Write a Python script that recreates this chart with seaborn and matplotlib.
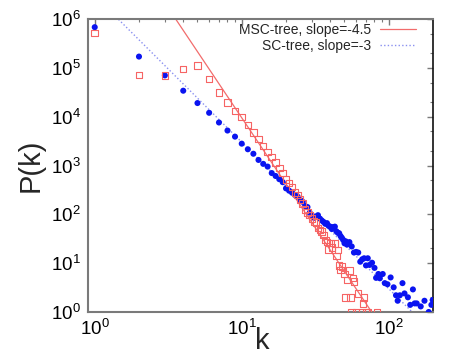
import matplotlib
matplotlib.use("Agg")
import matplotlib.pyplot as plt
import numpy as np
import pandas as pd
import seaborn as sns
from matplotlib.ticker import FixedLocator, NullFormatter

# ---- data ----
sc_k = [1, 2, 3, 4, 5, 6, 7, 8, 9, 10, 11, 12, 13, 14, 15, 16, 17, 18, 19, 20,
        21, 22, 23, 24, 25, 26, 27, 28, 29, 30, 31, 32, 33, 34, 35, 36, 37, 38, 39, 40,
        41, 42, 43, 44, 45, 46, 47, 48, 49, 50, 51, 52, 54, 56, 58, 60, 62, 64, 66, 68,
        70, 72, 74, 77, 80, 82, 85, 87, 91, 94, 98, 103, 108, 112, 115, 119, 124, 128,
        135, 140, 146, 150, 155, 165, 175, 187, 195, 199]
sc_p = [6.8e5, 1.7e5, 7.0e4, 3.4e4, 1.9e4, 1.2e4, 7.6e3, 5.2e3, 3.9e3, 2.8e3,
        2.15e3, 1.74e3, 1.3e3, 1.08e3, 950, 700, 610, 525, 455, 340,
        305, 277, 250, 230, 198, 180, 148, 141, 108, 96,
        85, 90, 96, 82, 75, 70, 64, 66, 58, 56,
        50, 55, 56, 45, 42, 41, 36, 33, 30, 25.5,
        28, 24, 27, 22, 16.5, 17, 16.5, 10.7, 12, 12.6,
        9, 12.6, 9.2, 10.2, 8, 5, 6, 4.9, 6, 3.9,
        3.7, 5.1, 3.2, 2.2, 1.7, 2.2, 3.9, 2.4,
        2, 1.4, 2.9, 1.5, 1.5, 1.3, 1.7, 1.0, 1.4, 1.76]

msc_k = [1, 2, 3, 4, 5, 6, 7, 8, 9, 10, 11, 12, 13, 14, 15, 16, 17, 18, 19, 20,
         21, 22, 23, 24, 25, 26, 27, 28, 29, 30, 31, 32, 33, 34, 35, 36, 37, 38, 39, 40,
         41, 43, 44, 45, 46, 47, 48, 50, 51, 52, 54, 55, 57, 58, 56, 60, 62, 66, 67, 68,
         70, 72, 83]
msc_p = [5.2e5, 7.2e4, 6.9e4, 9.4e4, 1.12e5, 5.9e4, 3.1e4, 1.95e4, 1.3e4, 9.8e3,
         6.8e3, 4.7e3, 3.5e3, 2.5e3, 1.9e3, 1.5e3, 1.15e3, 880, 700, 520,
         440, 360, 280, 250, 200, 168, 125, 110, 97, 83,
         72, 68, 52, 48, 44, 38, 30, 27, 19, 26,
         21, 25, 14, 18.6, 9, 7.2, 8.5, 6, 2, 4.5,
         7, 2, 5, 4.2, 1, 1, 2.4, 1, 1.5, 2,
         1, 1, 1]

# power-law guide lines: P = C * k^slope
msc_slope, msc_c = -4.5, 3.0e8
sc_slope, sc_c = -3.0, 3.0e6
line_k = [0.9, 200]

labels = ["MSC-tree, slope=-4.5", "SC-tree, slope=-3"]
x_ticks = [1, 10, 100]
x_ticklabels = ["$10^{0}$", "$10^{1}$", "$10^{2}$"]
y_ticks = [1, 10, 100, 1e3, 1e4, 1e5, 1e6]
y_ticklabels = ["$10^{0}$", "$10^{1}$", "$10^{2}$", "$10^{3}$",
                "$10^{4}$", "$10^{5}$", "$10^{6}$"]

# ---- styling ----
sns.set_style("white")
plt.rcParams["font.family"] = ["Liberation Sans", "DejaVu Sans"]
plt.rcParams["mathtext.fontset"] = "custom"
plt.rcParams["mathtext.rm"] = "Liberation Sans"
plt.rcParams["mathtext.it"] = "Liberation Sans"
plt.rcParams["mathtext.default"] = "regular"

fig = plt.figure(figsize=(4.57, 3.6), dpi=100)
ax = fig.add_axes([88 / 457, 48 / 360, 345 / 457, 293 / 360])

red = "#f66464"
blue = "#0a14f0"

sc_df = pd.DataFrame({"k": sc_k, "P": sc_p})
msc_df = pd.DataFrame({"k": msc_k, "P": msc_p})

lk = np.array(line_k, dtype=float)
msc_line = pd.DataFrame({"k": lk, "P": msc_c * lk ** msc_slope})
sc_line = pd.DataFrame({"k": lk, "P": sc_c * lk ** sc_slope})

sns.lineplot(data=msc_line, x="k", y="P", color="#f26c6c", lw=0.9, ax=ax,
             label=labels[0])
sns.lineplot(data=sc_line, x="k", y="P", color="#8a90f0", lw=1.0, ax=ax,
             linestyle=(0, (1, 1.6)), label=labels[1])

sns.scatterplot(data=sc_df, x="k", y="P", color=blue, marker="o", s=19,
                edgecolor="none", linewidth=0, ax=ax, legend=False, zorder=3)
sns.scatterplot(data=msc_df, x="k", y="P", marker="s", s=22, facecolor="none",
                edgecolor=red, linewidth=0.8, ax=ax, legend=False, zorder=4)

ax.set_xscale("log")
ax.set_yscale("log")
ax.set_xlim(0.9, 200)
ax.set_ylim(1, 1e6)

ax.set_xticks(x_ticks)
ax.set_xticklabels(x_ticklabels)
ax.set_yticks(y_ticks)
ax.set_yticklabels(y_ticklabels)
x_minor = [m * d for d in (1, 10, 100) for m in range(2, 10) if m * d < 200]
y_minor = [m * d for d in (1, 10, 100, 1e3, 1e4, 1e5) for m in (2, 5)]
ax.xaxis.set_minor_locator(FixedLocator(x_minor))
ax.yaxis.set_minor_locator(FixedLocator(y_minor))
ax.xaxis.set_minor_formatter(NullFormatter())
ax.yaxis.set_minor_formatter(NullFormatter())

grey = "#7a7a7a"
for side in ["left", "bottom", "top"]:
    ax.spines[side].set_color(grey)
    ax.spines[side].set_linewidth(1.5)
ax.spines["right"].set_color("#111111")
ax.spines["right"].set_linewidth(1.2)

ax.tick_params(which="both", direction="in", top=True, right=True, color=grey,
               labelsize=13.5, labelcolor="black")
ax.tick_params(which="major", length=4.5, width=1.0, pad=5)
ax.tick_params(which="minor", length=2.5, width=0.8)

ax.set_xlabel("k", fontsize=21)
ax.set_ylabel("P(k)", fontsize=21)
ax.xaxis.set_label_coords(0.505, -0.052)
ax.yaxis.set_label_coords(-0.125, 0.5)

leg = ax.legend(loc="upper right", bbox_to_anchor=(416 / 457, 337 / 360),
                bbox_transform=fig.transFigure, frameon=False, fontsize=10,
                markerfirst=False, borderpad=0, borderaxespad=0,
                handlelength=2.6, handletextpad=0.65, labelspacing=0.12)
leg._legend_box.align = "right"

fig.savefig("out.png", dpi=100)
